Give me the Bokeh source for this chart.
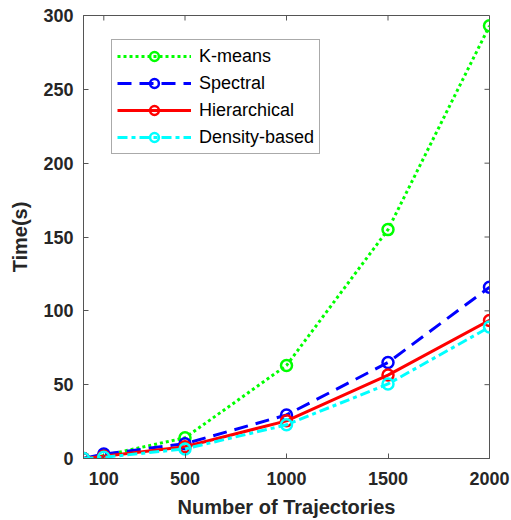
import math
from bokeh.plotting import figure
from bokeh.models import Range1d, FixedTicker, Legend, LegendItem
from bokeh.embed import file_html
from bokeh.resources import INLINE

trajectories = [0, 100, 500, 1000, 1500, 2000]
kmeans = [0, 2, 14, 63, 155, 293]
spectral = [0, 3, 10, 29.5, 65, 116]
hierarchical = [0, 1.5, 8, 25.5, 56.5, 93.5]
density = [0, 0.8, 6.5, 22.8, 50.5, 89]
x_ticks = [100, 500, 1000, 1500, 2000]
y_ticks = [0, 50, 100, 150, 200, 250, 300]

series = [
    ("K-means", kmeans, "#00ff00", "3 3"),
    ("Spectral", spectral, "#0000ff", "14 8"),
    ("Hierarchical", hierarchical, "#ff0000", "solid"),
    ("Density-based", density, "#00ffff", "10 4 4 4"),
]

FONT = "Liberation Sans"
AX = "#262626"
FRAME = "#555555"
X0, X1, Y0, Y1 = 0, 2000, 0, 300

p = figure(width=511, height=520, output_backend="svg", toolbar_location=None,
           x_range=Range1d(X0, X1), y_range=Range1d(Y0, Y1),
           min_border_left=83, min_border_right=22, min_border_top=15, min_border_bottom=59,
           x_axis_label="Number of Trajectories", y_axis_label="Time(s)")
p.grid.visible = False
p.outline_line_color = FRAME
p.outline_line_width = 1
p.background_fill_color = "white"
p.border_fill_color = "white"

p.xaxis.ticker = FixedTicker(ticks=x_ticks)
p.yaxis.ticker = FixedTicker(ticks=y_ticks)
for ax in (p.xaxis[0], p.yaxis[0]):
    ax.major_tick_in = 5
    ax.major_tick_out = 0
    ax.minor_tick_in = 0
    ax.minor_tick_out = 0
    ax.axis_line_color = FRAME
    ax.major_tick_line_color = FRAME
    ax.major_label_text_font = FONT
    ax.major_label_text_font_style = "bold"
    ax.major_label_text_font_size = "18px"
    ax.major_label_text_color = AX
    ax.axis_label_text_font = FONT
    ax.axis_label_text_font_style = "bold"
    ax.axis_label_text_font_size = "20px"
    ax.axis_label_text_color = AX
p.xaxis.major_label_standoff = 13
p.xaxis.axis_label_standoff = 8
p.yaxis.major_label_standoff = 10
p.yaxis.axis_label_standoff = 9

# mirrored inward ticks on the top and right edges of the box
p.ray(x=x_ticks, y=[Y1] * len(x_ticks), length=5, length_units="screen",
      angle=-math.pi / 2, line_color=FRAME, line_width=1)
p.ray(x=[X1] * len(y_ticks), y=y_ticks, length=5, length_units="screen",
      angle=math.pi, line_color=FRAME, line_width=1)

items = []
for name, ys, color, dash in series:
    ln = p.line(trajectories, ys, line_color=color, line_width=3, line_dash=dash)
    sc = p.scatter(trajectories, ys, marker="circle", size=11, fill_color=None,
                   line_color=color, line_width=2.5)
    items.append(LegendItem(label=name, renderers=[ln, sc]))

legend = Legend(items=items, location=(28, 304), glyph_width=74, glyph_height=22,
                label_height=22, spacing=5, padding=5, label_standoff=8, margin=0,
                label_text_font=FONT, label_text_font_size="18px", label_text_color="#000000",
                border_line_color=FRAME, border_line_width=1,
                background_fill_color="white", background_fill_alpha=1)
p.add_layout(legend, "center")

open("out.html", "w").write(file_html(p, INLINE))
